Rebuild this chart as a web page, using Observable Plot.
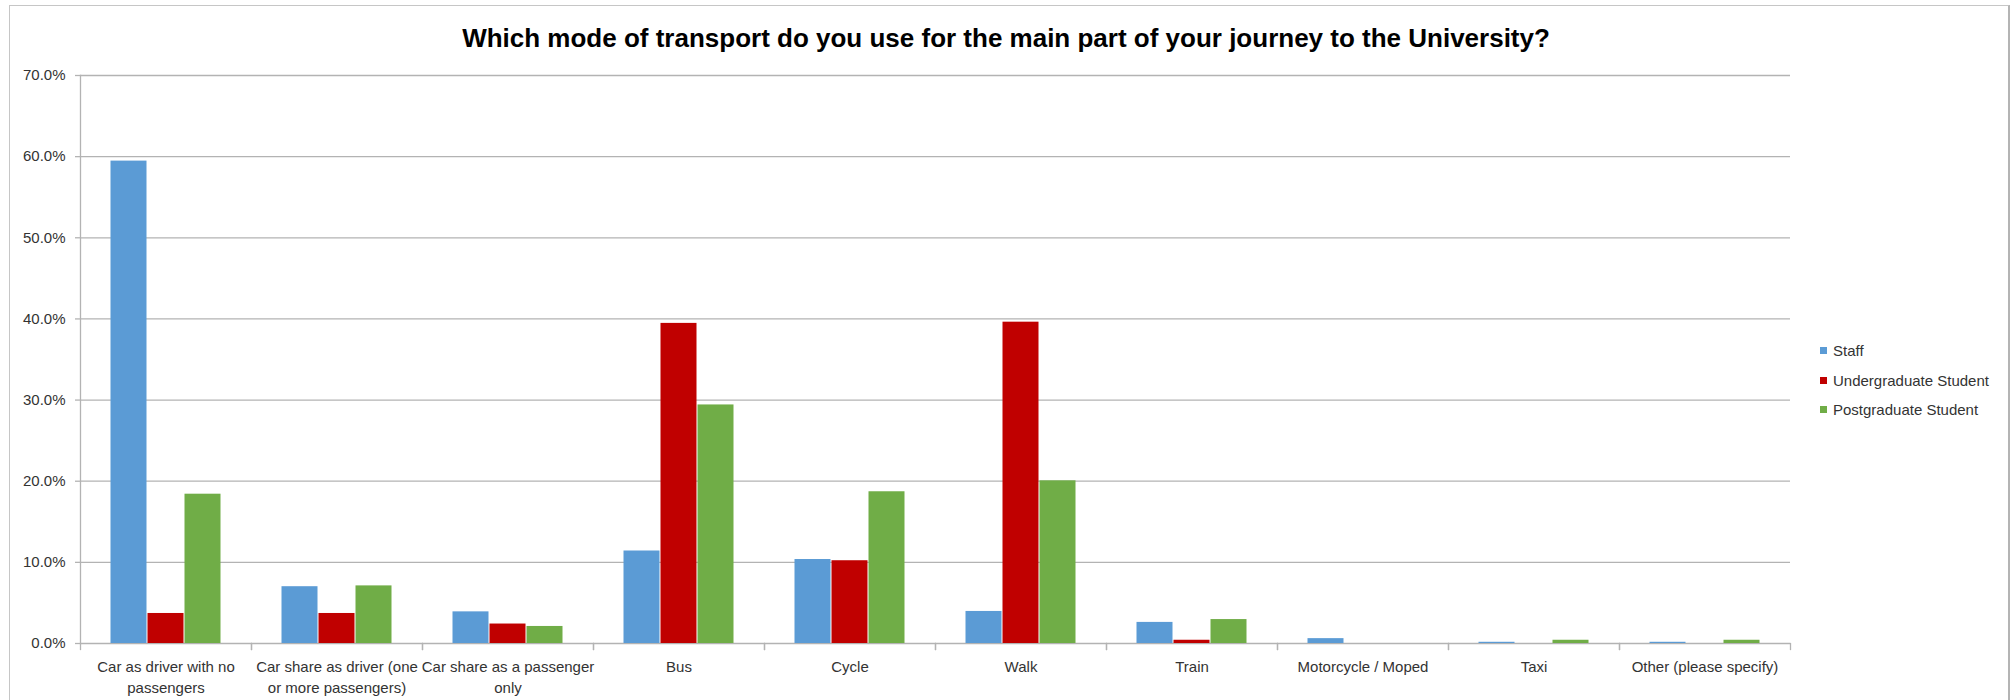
<!DOCTYPE html>
<html>
<head>
<meta charset="utf-8">
<script src="https://cdn.jsdelivr.net/npm/d3@7"></script>
<script src="https://cdn.jsdelivr.net/npm/@observablehq/plot@0.6"></script>
<style>
  body { margin: 0; background: #fff; font-family: "Liberation Sans", Arial, sans-serif; }
  #wrap { position: relative; width: 2012px; height: 700px; overflow: hidden; background: #fff; }
  #border { position: absolute; left: 9px; top: 5px; width: 2001px; height: 720px; box-sizing: border-box;
            border-top: 1.5px solid #c6c6c6; border-left: 1.5px solid #c6c6c6; border-right: 2px solid #b4b4b4; }
  #title { position: absolute; left: 0; top: 16px; width: 2012px; height: 44px; line-height: 44px; text-align: center;
           font-weight: bold; font-size: 26px; color: #000; }
  #chart { position: absolute; left: 0; top: 60px; }
  #legend { position: absolute; left: 1820px; top: 336px; font-size: 15px; color: #333; }
  #legend .row { height: 29.5px; line-height: 29.5px; display: flex; align-items: center; white-space: nowrap; }
  #legend .sw { width: 7px; height: 7px; margin-right: 6px; display: inline-block; }
</style>
</head>
<body>
<div id="wrap">
  <div id="border"></div>
  <div id="title"></div>
  <div id="chart"></div>
  <div id="legend"></div>
</div>
<script>
const titleText = "Which mode of transport do you use for the main part of your journey to the University?";

const categories = [
  "Car as driver with no passengers",
  "Car share as driver (one or more passengers)",
  "Car share as a passenger only",
  "Bus",
  "Cycle",
  "Walk",
  "Train",
  "Motorcycle / Moped",
  "Taxi",
  "Other (please specify)"
];
const categoryLabels = [
  "Car as driver with no\npassengers",
  "Car share as driver (one\nor more passengers)",
  "Car share as a passenger\nonly",
  "Bus",
  "Cycle",
  "Walk",
  "Train",
  "Motorcycle / Moped",
  "Taxi",
  "Other (please specify)"
];

const series = ["Staff", "Undergraduate Student", "Postgraduate Student"];
const colors = ["#5B9BD5", "#C00000", "#70AD47"];

const staff         = [59.45, 7.0, 3.9, 11.4, 10.35, 3.95, 2.6, 0.6, 0.15, 0.15];
const undergraduate = [3.7, 3.7, 2.4, 39.45, 10.2, 39.6, 0.4, 0, 0, 0];
const postgraduate  = [18.4, 7.1, 2.1, 29.4, 18.7, 20.05, 2.95, 0, 0.4, 0.4];

const yTicks = [0, 10, 20, 30, 40, 50, 60, 70];

const seriesValues = [staff, undergraduate, postgraduate];
const data = categories.flatMap((c, i) =>
  series.map((s, j) => ({category: c, series: s, value: seriesValues[j][i]}))
);

document.getElementById("title").textContent = titleText;

const W = 2012, H = 640;
const mL = 76, mR = 2012 - 1793, mT = 15, mB = 57;
const plotH = H - mT - mB;
const axisGray = "#b3b3b3";
const textColor = "#333";

const chart = Plot.plot({
  width: W,
  height: H,
  marginLeft: mL,
  marginRight: mR,
  marginTop: mT,
  marginBottom: mB,
  style: {fontFamily: "'Liberation Sans', Arial, sans-serif", fontSize: "15px", color: textColor, background: "transparent"},
  fx: {domain: categories, padding: 0, label: null},
  x: {domain: series, paddingInner: 0, paddingOuter: 0.76, axis: null},
  y: {domain: [0, 70], axis: null},
  color: {domain: series, range: colors},
  marks: [
    Plot.gridY(yTicks, {stroke: axisGray, strokeOpacity: 1, strokeWidth: 1.3}),
    Plot.frame({anchor: "left", facetAnchor: "left", stroke: axisGray, strokeWidth: 1.3}),
    Plot.frame({anchor: "left", insetTop: plotH, insetBottom: -6, stroke: axisGray, strokeWidth: 1.3}),
    Plot.frame({anchor: "right", insetTop: plotH, insetBottom: -6, stroke: axisGray, strokeWidth: 1.3}),
    Plot.axisY(yTicks, {
      anchor: "left",
      tickFormat: d => d.toFixed(1) + "%",
      tickSize: 5, tickPadding: 10, stroke: axisGray, strokeWidth: 1.3,
      label: null, fontSize: 15, fill: textColor
    }),
    Plot.barY(data, {fx: "category", x: "series", y: "value", fill: "series", insetLeft: 0.5, insetRight: 0.5}),
    Plot.axisFx({
      anchor: "bottom",
      tickSize: 0, tickPadding: 13,
      tickFormat: c => categoryLabels[categories.indexOf(c)],
      lineHeight: 1.43, label: null, fontSize: 15, fill: textColor
    })
  ]
});
document.getElementById("chart").appendChild(chart);

const legend = d3.select("#legend");
series.forEach((s, j) => {
  const row = legend.append("div").attr("class", "row");
  row.append("span").attr("class", "sw").style("background", colors[j]);
  row.append("span").text(s);
});
</script>
</body>
</html>
